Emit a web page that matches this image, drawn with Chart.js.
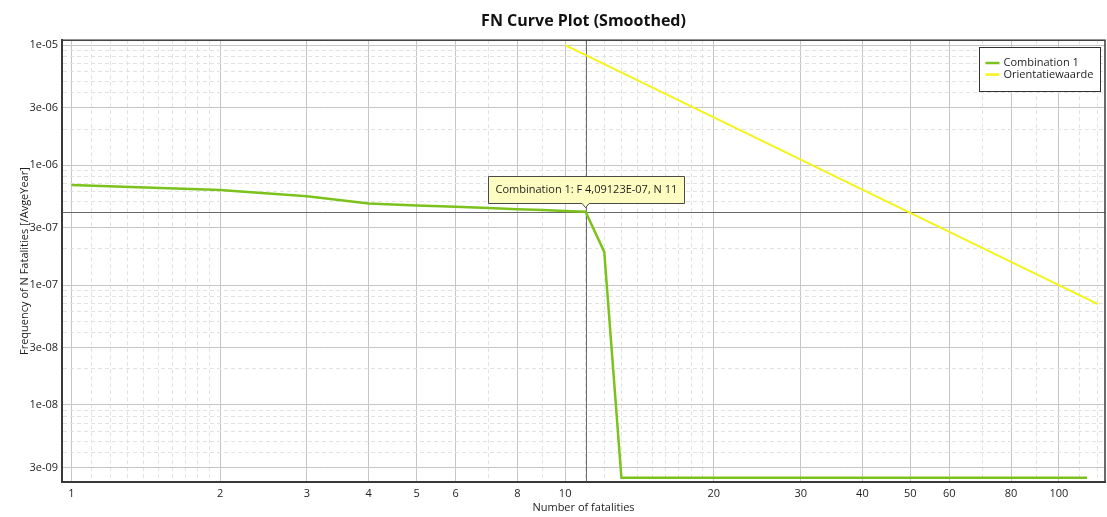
<!DOCTYPE html>
<html>
<head>
<meta charset="utf-8">
<title>FN Curve Plot (Smoothed)</title>
<script src="https://cdn.jsdelivr.net/npm/chart.js@4.4.1/dist/chart.umd.min.js"></script>
<style>
  html, body { margin: 0; padding: 0; background: #fff; }
  #fn-chart { display: block; }
</style>
</head>
<body>
<canvas id="fn-chart" width="1107" height="517"></canvas>
<script>
// FN curve
var comboN = [1, 2, 3, 4, 5, 6, 7, 8, 9, 10, 11, 12, 13, 114];
var comboF = [6.81e-7, 6.19e-7, 5.51e-7, 4.78e-7, 4.61e-7, 4.49e-7, 4.39e-7, 4.29e-7, 4.22e-7, 4.15e-7, 4.09123e-7, 1.89e-7, 2.47e-9, 2.47e-9];
var orientN = [10, 120];
var orientF = [1e-5, 6.94e-8];
var hoverIndex = 10; // point with the pinned tooltip (N = 11)

var xTickLabels = ['1', '2', '3', '4', '5', '6', '8', '10', '20', '30', '40', '50', '60', '80', '100'];
var xMinorTicks = [1.1, 1.2, 1.3, 1.4, 1.5, 1.6, 1.7, 1.8, 1.9, 7, 9, 11, 12, 13, 14, 15, 16, 17, 18, 19, 70, 90, 110, 120];
var yTickLabels = ['1e-05', '3e-06', '1e-06', '3e-07', '1e-07', '3e-08', '1e-08', '3e-09'];
var yMinorMantissas = [2, 4, 5, 6, 7, 8, 9];

var xRange = [0.957, 124];
var yRange = [2.28e-9, 1.10e-5];

(function () {
  'use strict';

  var colors = {
    combo: '#7cc21c',
    orient: '#f4f41a',
    text: '#1e1e1e',
    major: '#c6c6c6',
    minor: '#e2e2e2',
    axis: '#3a3a3a',
    cross: '#6a6a6a',
    tipFill: '#fdfdc2',
    tipBorder: '#4a4a4a',
  };

  Chart.defaults.font.family = '"Open Sans", "Noto Sans", sans-serif';
  Chart.defaults.font.size = 11;
  Chart.defaults.color = colors.text;

  function xTicks() {
    var list = xTickLabels.map(function (l) { return { value: Number(l), minor: false }; });
    xMinorTicks.forEach(function (v) { list.push({ value: v, minor: true }); });
    return list.sort(function (a, b) { return a.value - b.value; });
  }

  function yTicks() {
    var list = yTickLabels.map(function (l) { return { value: Number(l), minor: false }; });
    for (var e = -9; e <= -6; e++) {
      yMinorMantissas.forEach(function (m) {
        var v = m * Math.pow(10, e);
        if (v > yRange[0] && v < yRange[1]) list.push({ value: v, minor: true });
      });
    }
    return list.sort(function (a, b) { return a.value - b.value; });
  }

  function yLabel(v) {
    var exp = Math.floor(Math.log10(v) + 1e-9);
    var mant = Math.round(v / Math.pow(10, exp));
    var e = Math.abs(exp);
    return mant + 'e' + (exp < 0 ? '-' : '+') + (e < 10 ? '0' + e : e);
  }

  function tipText(n, f) {
    var exp = Math.floor(Math.log10(f));
    var mant = (f / Math.pow(10, exp)).toFixed(5).replace('.', ',');
    var e = Math.abs(exp);
    return 'Combination 1: F ' + mant + 'E' + (exp < 0 ? '-' : '+') + (e < 10 ? '0' + e : e) + ', N ' + n;
  }

  function gridColor(ctx) {
    return ctx.tick && ctx.tick.minor ? colors.minor : colors.major;
  }

  function gridDash(ctx) {
    return ctx.tick && ctx.tick.minor ? [4, 3] : [];
  }

  var crosshair = {
    id: 'crosshair',
    beforeDatasetsDraw: function (chart) {
      var a = chart.chartArea, ctx = chart.ctx;
      var px = chart.scales.x.getPixelForValue(comboN[hoverIndex]);
      var py = chart.scales.y.getPixelForValue(comboF[hoverIndex]);
      ctx.save();
      ctx.strokeStyle = colors.cross;
      ctx.lineWidth = 1;
      ctx.beginPath();
      ctx.moveTo(a.left, Math.round(py) + 0.5);
      ctx.lineTo(a.right, Math.round(py) + 0.5);
      ctx.moveTo(Math.round(px) + 0.5, a.top);
      ctx.lineTo(Math.round(px) + 0.5, a.bottom);
      ctx.stroke();
      ctx.restore();
    },
  };

  var frame = {
    id: 'frame',
    afterDatasetsDraw: function (chart) {
      var a = chart.chartArea, ctx = chart.ctx;
      ctx.save();
      ctx.strokeStyle = colors.axis;
      ctx.lineWidth = 1.5;
      ctx.strokeRect(a.left, a.top, a.right - a.left, a.bottom - a.top);
      ctx.restore();
    },
  };

  var pinnedTip = {
    id: 'pinnedTip',
    afterDraw: function (chart) {
      var ctx = chart.ctx;
      var px = chart.scales.x.getPixelForValue(comboN[hoverIndex]);
      var py = chart.scales.y.getPixelForValue(comboF[hoverIndex]);
      var text = tipText(comboN[hoverIndex], comboF[hoverIndex]);
      ctx.save();
      ctx.font = '11px "Open Sans", "Noto Sans", sans-serif';
      var w = Math.round(ctx.measureText(text).width + 14);
      var h = 27;
      var l = Math.round(px - w / 2) + 0.5;
      var b = Math.round(py - 9) + 0.5;
      var t = b - h;
      ctx.beginPath();
      ctx.moveTo(l, t);
      ctx.lineTo(l + w, t);
      ctx.lineTo(l + w, b);
      ctx.lineTo(px + 3.5, b);
      ctx.lineTo(px, py - 4);
      ctx.lineTo(px - 3.5, b);
      ctx.lineTo(l, b);
      ctx.closePath();
      ctx.fillStyle = colors.tipFill;
      ctx.fill();
      ctx.strokeStyle = colors.tipBorder;
      ctx.lineWidth = 1;
      ctx.stroke();
      ctx.fillStyle = colors.text;
      ctx.textBaseline = 'middle';
      ctx.textAlign = 'left';
      ctx.fillText(text, l + 7, t + h / 2);
      ctx.restore();
    },
  };

  var boxLegend = {
    id: 'boxLegend',
    afterDraw: function (chart) {
      var a = chart.chartArea, ctx = chart.ctx;
      var sets = chart.data.datasets;
      ctx.save();
      ctx.font = '11px "Open Sans", "Noto Sans", sans-serif';
      var tw = 0;
      sets.forEach(function (d) { tw = Math.max(tw, ctx.measureText(d.label).width); });
      var w = Math.round(tw + 31), h = 44;
      var r = Math.round(a.right - 5) + 0.5, t = Math.round(a.top + 7) + 0.5;
      var l = r - w;
      ctx.fillStyle = '#fff';
      ctx.fillRect(l, t, w, h);
      ctx.strokeStyle = '#333';
      ctx.lineWidth = 1;
      ctx.strokeRect(l, t, w, h);
      sets.forEach(function (d, i) {
        var cy = t + 15.5 + i * 11.6;
        ctx.strokeStyle = d.borderColor;
        ctx.lineWidth = 2.5;
        ctx.beginPath();
        ctx.moveTo(l + 6, cy);
        ctx.lineTo(l + 20, cy);
        ctx.stroke();
        ctx.fillStyle = colors.text;
        ctx.textBaseline = 'middle';
        ctx.fillText(d.label, l + 24, cy);
      });
      ctx.restore();
    },
  };

  function points(xs, ys) {
    return xs.map(function (x, i) { return { x: x, y: ys[i] }; });
  }

  var el = document.getElementById('fn-chart');

  new Chart(el, {
    type: 'line',
    data: {
      datasets: [
        {
          label: 'Combination 1',
          data: points(comboN, comboF),
          borderColor: colors.combo,
          borderWidth: 2.5,
          pointRadius: 0,
          tension: 0,
          fill: false,
        },
        {
          label: 'Orientatiewaarde',
          data: points(orientN, orientF),
          borderColor: colors.orient,
          borderWidth: 2,
          pointRadius: 0,
          tension: 0,
          fill: false,
        },
      ],
    },
    options: {
      responsive: false,
      animation: false,
      events: [],
      layout: { padding: { left: 0, right: 2, top: 0, bottom: 0 } },
      scales: {
        x: {
          type: 'logarithmic',
          min: xRange[0],
          max: xRange[1],
          bounds: 'data',
          afterBuildTicks: function (s) { s.ticks = xTicks(); },
          afterFit: function (s) { s.height = 35; },
          grid: { color: gridColor, lineWidth: 1, drawTicks: false },
          border: { display: true, color: colors.axis, width: 2, dash: gridDash },
          ticks: {
            autoSkip: false,
            maxRotation: 0,
            padding: 5,
            callback: function (v, i, ticks) { return ticks[i].minor ? '' : String(v); },
          },
          title: {
            display: true,
            text: 'Number of fatalities',
            padding: { top: 0, bottom: 3 },
          },
        },
        y: {
          type: 'logarithmic',
          min: yRange[0],
          max: yRange[1],
          bounds: 'data',
          afterBuildTicks: function (s) { s.ticks = yTicks(); },
          afterFit: function (s) { s.width = 62; },
          grid: { color: gridColor, lineWidth: 1, drawTicks: false },
          border: { display: true, color: colors.axis, width: 2, dash: gridDash },
          ticks: {
            autoSkip: false,
            padding: 4,
            callback: function (v, i, ticks) { return ticks[i].minor ? '' : yLabel(v); },
          },
          title: {
            display: true,
            text: 'Frequency of N Fatalities [/AvgeYear]',
            padding: { top: 18, bottom: 0 },
          },
        },
      },
      plugins: {
        legend: { display: false },
        tooltip: { enabled: false },
        title: {
          display: true,
          text: 'FN Curve Plot (Smoothed)',
          fullSize: false,
          color: '#111',
          font: { size: 16, weight: 'bold' },
          padding: { top: 12, bottom: 9 },
        },
      },
    },
    plugins: [crosshair, frame, pinnedTip, boxLegend],
  });
})();
</script>
</body>
</html>
